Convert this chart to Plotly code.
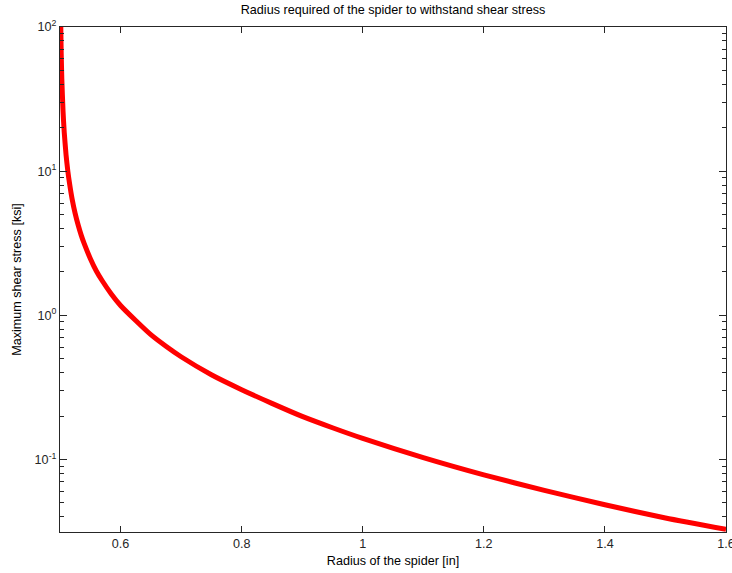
import plotly.graph_objects as go

# Radius of the spider [in]
radius = [0.5013, 0.502, 0.503, 0.505, 0.507, 0.51, 0.513, 0.516, 0.52, 0.525,
          0.53, 0.535, 0.54, 0.55, 0.56, 0.57, 0.585, 0.6, 0.625, 0.65,
          0.675, 0.7, 0.75, 0.8, 0.85, 0.9, 0.95, 1.0, 1.1, 1.2,
          1.3, 1.4, 1.5, 1.6]
# Maximum shear stress [ksi]
stress = [100, 65.5, 43.5, 26.1, 18.6, 12.97, 9.94, 8.1, 6.42, 5.1,
          4.23, 3.6, 3.14, 2.48, 2.03, 1.73, 1.4, 1.17, 0.92, 0.734,
          0.61, 0.516, 0.387, 0.305, 0.245, 0.199, 0.166, 0.14, 0.103, 0.0782,
          0.061, 0.0485, 0.0393, 0.0328]

y_major = [0.1, 1, 10, 100]
y_major_text = ["10<sup>-1</sup>", "10<sup>0</sup>", "10<sup>1</sup>", "10<sup>2</sup>"]
y_minor = [m * d for d in (0.01, 0.1, 1, 10) for m in range(2, 10)]
y_minor = [v for v in y_minor if 0.0314 <= v <= 100]
x_ticks = [0.6, 0.8, 1.0, 1.2, 1.4, 1.6]
x_tick_text = ["0.6", "0.8", "1", "1.2", "1.4", "1.6"]

font = dict(family="Liberation Sans, Arial, sans-serif", size=12.6, color="#262626")

fig = go.Figure()
fig.add_trace(go.Scatter(x=radius, y=stress, mode="lines",
                         line=dict(color="#ff0000", width=5, shape="spline", smoothing=0.6),
                         showlegend=False))

fig.update_layout(
    width=732, height=573,
    margin=dict(l=60, r=6, t=27, b=41),
    paper_bgcolor="white", plot_bgcolor="white",
    font=font,
    title=dict(text="Radius required of the spider to withstand shear stress",
               x=(60 + 726) / 2 / 732, xanchor="center", y=1 - 10 / 573, yanchor="middle",
               font=dict(size=12.6, color="#000")),
)
fig.update_xaxes(range=[0.5, 1.6], tickvals=x_ticks, ticktext=x_tick_text,
                 ticks="inside", ticklen=6, tickcolor="#262626", automargin=False,
                 ticklabeloverflow="allow",
                 showline=True, linecolor="#262626", linewidth=1, mirror="ticks",
                 showgrid=False, zeroline=False,
                 title=dict(text="Radius of the spider [in]", standoff=6,
                            font=dict(size=12.6, color="#000")))
fig.update_yaxes(type="log", range=[-1.503, 2.0], tickvals=y_major, ticktext=y_major_text,
                 ticks="inside", ticklen=7, tickcolor="#262626", automargin=False,
                 ticklabeloverflow="allow",
                 showline=True, linecolor="#262626", linewidth=1, mirror="ticks",
                 showgrid=False, zeroline=False,
                 minor=dict(tickvals=y_minor, ticks="inside", ticklen=4, tickcolor="#262626"),
                 title=dict(text="Maximum shear stress [ksi]", standoff=10,
                            font=dict(size=12.6, color="#000")))

fig.write_html("out.html", config={"displayModeBar": False},
               post_script="document.body.style.margin='0';document.body.style.overflow='hidden';")
